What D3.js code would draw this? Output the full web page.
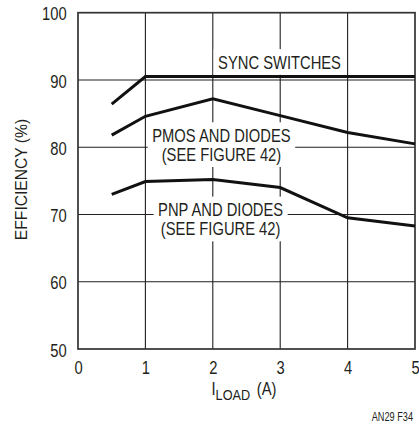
<!DOCTYPE html>
<html>
<head>
<meta charset="utf-8">
<script src="https://cdn.jsdelivr.net/npm/d3@7"></script>
<style>
  html, body { margin: 0; padding: 0; background: #fff; }
  svg { display: block; }
  text { font-family: 'Liberation Sans', Arial, Helvetica, sans-serif; fill: #231f20; }
</style>
</head>
<body>
<svg id="chart" width="419" height="429"></svg>
<script>
// ---- data ----
const loadCurrent = [0.5, 1, 2, 3, 4, 5];
const syncSwitches = [86.4, 90.5, 90.5, 90.5, 90.5, 90.5];
const pmosDiodes = [81.8, 84.6, 87.2, 84.7, 82.2, 80.5];
const pnpDiodes = [73.0, 74.9, 75.2, 74.0, 69.5, 68.3];
const xTicks = [0, 1, 2, 3, 4, 5];
const yTicks = [50, 60, 70, 80, 90, 100];
const seriesLabels = [
  ["SYNC SWITCHES"],
  ["PMOS AND DIODES", "(SEE FIGURE 42)"],
  ["PNP AND DIODES", "(SEE FIGURE 42)"]
];

// ---- layout ----
const labelAnchors = [[2.99, 91.7], [2.128, 80.82], [2.116, 69.77]]; // data-space anchor of first baseline
const svg = d3.select("#chart");
const mLeft = 78, mRight = 415, mTop = 12.7, mBottom = 349;
const x = d3.scaleLinear().domain([0, 5]).range([mLeft, mRight]);
const y = d3.scaleLinear().domain([50, 100]).range([mBottom, mTop]);
const ink = "#231f20";
const SX = 0.82; // condensed (Helvetica Narrow look)

// gridlines
const grid = svg.append("g");
grid.selectAll(".vg").data(xTicks.slice(1, -1)).join("line")
  .attr("x1", d => x(d)).attr("x2", d => x(d))
  .attr("y1", mTop).attr("y2", mBottom)
  .attr("stroke", ink).attr("stroke-width", 1.1);
grid.selectAll(".hg").data(yTicks.slice(1, -1)).join("line")
  .attr("y1", d => y(d)).attr("y2", d => y(d))
  .attr("x1", mLeft).attr("x2", mRight)
  .attr("stroke", ink).attr("stroke-width", 1.1);

// frame
svg.append("rect")
  .attr("x", mLeft).attr("y", mTop)
  .attr("width", mRight - mLeft).attr("height", mBottom - mTop)
  .attr("fill", "none").attr("stroke", "#333").attr("stroke-width", 1.7);

// axes (labels only)
const xAxis = svg.append("g").attr("transform", `translate(0,${mBottom})`)
  .call(d3.axisBottom(x).tickValues(xTicks).tickFormat(d3.format("d")).tickSize(0));
xAxis.select(".domain").remove();
xAxis.selectAll("text").attr("y", 25).attr("dy", 0)
  .attr("transform", `scale(${SX},1)`)
  .style("font-size", "18px").attr("fill", ink);

const yAxis = svg.append("g").attr("transform", `translate(${mLeft},0)`)
  .call(d3.axisLeft(y).tickValues(yTicks).tickFormat(d3.format("d")).tickSize(0));
yAxis.select(".domain").remove();
yAxis.selectAll("text").attr("x", -11.3 / SX).attr("dy", "0.4em")
  .attr("transform", `scale(${SX},1)`)
  .style("font-size", "18px").attr("fill", ink);

// series labels with white boxes
const fs = 18, lh = 19;
seriesLabels.forEach((lines, k) => {
  const [ax, ay] = labelAnchors[k];
  const g = svg.append("g")
    .attr("transform", `translate(${x(ax)},${y(ay)}) scale(${SX},1)`);
  const t = g.append("text").attr("text-anchor", "middle")
    .style("font-size", fs + "px");
  lines.forEach((s, i) => {
    t.append("tspan").attr("x", 0).attr("y", i * lh).text(s);
  });
  const bb = t.node().getBBox();
  g.insert("rect", "text")
    .attr("x", bb.x - 4.5 / SX).attr("y", bb.y - 3)
    .attr("width", bb.width + 9 / SX).attr("height", bb.height + 6)
    .attr("fill", "#fff");
});

// data lines
const line = d3.line().x(d => x(d[0])).y(d => y(d[1]));
[syncSwitches, pmosDiodes, pnpDiodes].forEach(vals => {
  svg.append("path")
    .datum(loadCurrent.map((c, i) => [c, vals[i]]))
    .attr("d", line)
    .attr("fill", "none").attr("stroke", "#111")
    .attr("stroke-width", 3).attr("stroke-linejoin", "miter");
});

// axis titles
svg.append("text")
  .attr("transform", `translate(27.3,179.5) rotate(-90) scale(0.92,1)`)
  .attr("text-anchor", "middle")
  .style("font-size", "17px")
  .text("EFFICIENCY (%)");

const xt = svg.append("text")
  .attr("transform", `translate(${x(2.5) - 35},395) scale(${SX},1)`)
  .attr("text-anchor", "start")
  .style("font-size", "18px");
xt.append("tspan").text("I");
xt.append("tspan").attr("dy", 5).style("font-size", "15.5px").text("LOAD");
xt.append("tspan").attr("dy", -5).attr("dx", 3).text(" (A)");

svg.append("text")
  .attr("transform", `translate(413,420.5) scale(0.68,1)`)
  .attr("text-anchor", "end")
  .style("font-size", "13.5px")
  .text("AN29 F34");
</script>
</body>
</html>
